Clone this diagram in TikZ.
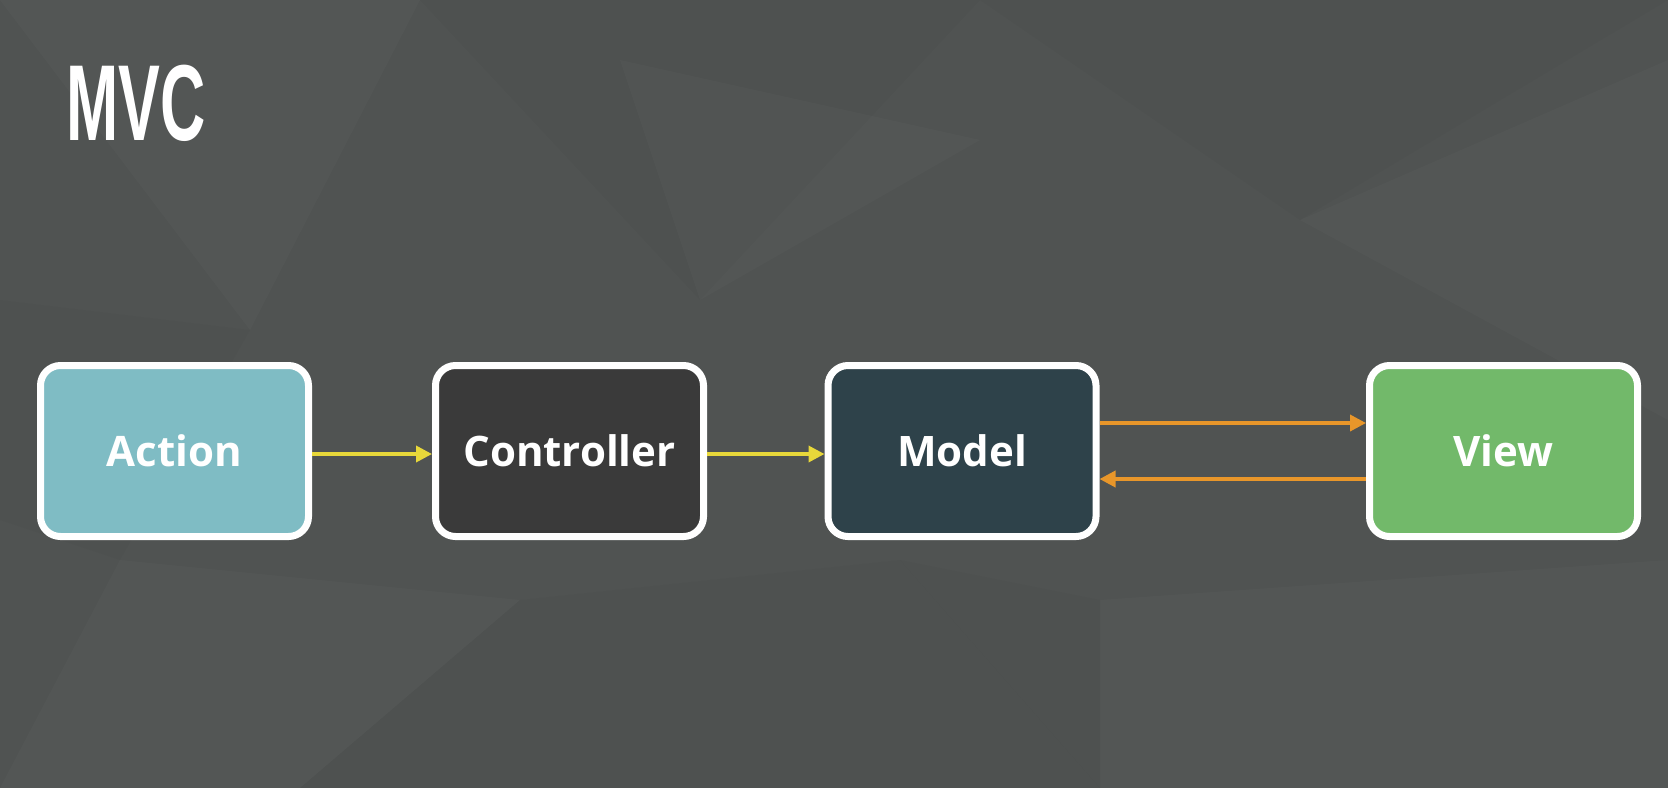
\documentclass[tikz,border=0pt]{standalone}
\usepackage{fontspec}
\setmainfont{Open Sans}
\newfontfamily\mvctitlefont[FakeStretch=0.58]{Liberation Sans}
\usetikzlibrary{arrows.meta}
\definecolor{SlideBg}{RGB}{80,83,82}
\definecolor{ActionFill}{RGB}{127,188,196}
\definecolor{ControllerFill}{RGB}{58,58,58}
\definecolor{ModelFill}{RGB}{46,66,74}
\definecolor{ViewFill}{RGB}{114,185,106}
\definecolor{FlowYellow}{RGB}{232,216,58}
\definecolor{FlowOrange}{RGB}{232,150,42}

\begin{document}
\begin{tikzpicture}[x=0.5pt,y=-0.5pt,
  mvcbox/.style={draw=white,line width=3.5pt,fill=#1,rounded corners=10pt,
    minimum width=134pt,minimum height=85.5pt,inner sep=0pt,
    text=white,font=\fontsize{21}{25}\selectfont\bfseries},
  flow/.style={line width=1.8pt,draw=#1,-{Triangle[length=8pt,width=8pt]}},
  facet/.style={fill=#1,fill opacity=0.018}]
\fill[SlideBg] (0,0) rectangle (1668,788);
% faint facets of the slide background
\fill[facet=white] (0,0) -- (420,0) -- (250,330) -- cycle;
\fill[facet=black] (420,0) -- (980,0) -- (700,300) -- cycle;
\fill[facet=white] (620,60) -- (980,140) -- (700,300) -- cycle;
\fill[facet=black] (980,0) -- (1668,0) -- (1300,220) -- cycle;
\fill[facet=white] (1300,220) -- (1668,60) -- (1668,420) -- cycle;
\fill[facet=black] (0,300) -- (250,330) -- (120,560) -- (0,520) -- cycle;
\fill[facet=white] (120,560) -- (520,600) -- (300,788) -- (0,788) -- cycle;
\fill[facet=black] (520,600) -- (900,560) -- (1100,788) -- (300,788) -- cycle;
\fill[facet=white] (1100,600) -- (1668,560) -- (1668,788) -- (1100,788) -- cycle;
\fill[facet=black] (900,560) -- (1100,600) -- (1100,788) -- cycle;
\useasboundingbox (0,0) rectangle (1668,788);
\node[anchor=base west,inner sep=0pt,text=white,
  font=\mvctitlefont\fontsize{54}{60}\selectfont\bfseries] (title) at (66,140) {MVC};
\node[mvcbox=ActionFill]     (action)     at (174.5,451) {Action};
\node[mvcbox=ControllerFill] (controller) at (569.5,451) {Controller};
\node[mvcbox=ModelFill]      (model)      at (962,451)   {Model};
\node[mvcbox=ViewFill]       (view)       at (1503.5,451) {View};
\draw[flow=FlowYellow] ([yshift=-1.5pt]action.east) -- ([yshift=-1.5pt]controller.west);
\draw[flow=FlowYellow] ([yshift=-1.5pt]controller.east) -- ([yshift=-1.5pt]model.west);
\draw[flow=FlowOrange] ([yshift=14pt]model.east) -- ([yshift=14pt]view.west);
\draw[flow=FlowOrange] ([yshift=-14pt]view.west) -- ([yshift=-14pt]model.east);
\end{tikzpicture}
\end{document}
